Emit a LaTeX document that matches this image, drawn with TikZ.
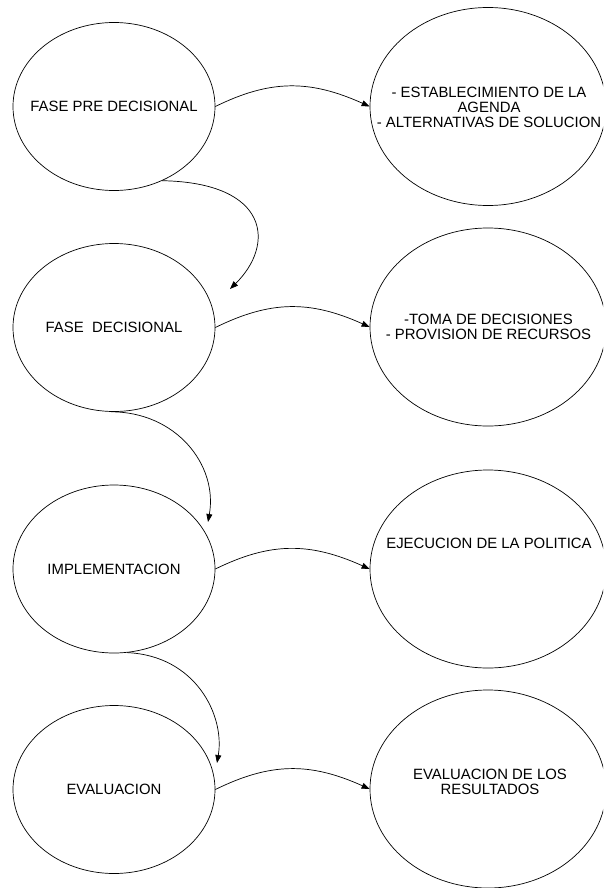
\documentclass[tikz,border=0pt]{standalone}
\usepackage{fontspec}
\setmainfont{Liberation Sans}
\usetikzlibrary{shapes.geometric,arrows.meta}
\begin{document}
\begin{tikzpicture}[x=1pt,y=1pt,
  ell/.style={draw, ellipse, line width=0.7pt, inner sep=0pt},
  lell/.style={ell, minimum width=202pt, minimum height=168pt},
  rell/.style={ell, minimum width=236pt, minimum height=198pt},
  txt/.style={align=center, inner sep=0pt, font=\fontsize{14.9}{15}\selectfont},
  conn/.style={line width=0.7pt, -{Triangle[length=8pt,width=6pt]}}]
\clip (0,0) rectangle (603,-888);
% left ellipses
\node[lell] (l1) at (114,-106.5) {};
\node[lell] (l2) at (114,-327.5) {};
\node[lell] (l3) at (114,-569) {};
\node[lell] (l4) at (114,-789.5) {};
% right ellipses
\node[rell] (r1) at (488,-106.5) {};
\node[rell] (r2) at (488,-327) {};
\node[rell] (r3) at (488,-569) {};
\node[rell] (r4) at (488,-789) {};
% texts
\node[txt] (t1) at (l1) {FASE PRE DECISIONAL};
\node[txt] (t2) at (l2) {FASE\ \ DECISIONAL};
\node[txt] (t3) at (l3) {IMPLEMENTACION};
\node[txt] (t4) at (l4) {EVALUACION};
\node[txt] (u1) at (489,-107) {- ESTABLECIMIENTO DE LA\\AGENDA\\- ALTERNATIVAS DE SOLUCION};
\node[txt] (u2) at (488.5,-326.5) {-TOMA DE DECISIONES\\- PROVISION DE RECURSOS};
\node[txt] (u3) at (489,-543) {EJECUCION DE LA POLITICA};
\node[txt] (u4) at (490,-781.5) {EVALUACION DE LOS\\RESULTADOS};
% horizontal connectors
\draw[conn] (l1.east) .. controls +(55,27) and +(-60,27) .. (r1.west);
\draw[conn] (l2.east) .. controls +(55,27) and +(-60,27) .. (r2.west);
\draw[conn] (l3.east) .. controls +(55,27) and +(-60,27) .. (r3.west);
\draw[conn] (l4.east) .. controls +(55,27) and +(-60,27) .. (r4.west);
% vertical connectors
\coordinate (e1) at (230,-289);
\coordinate (e2) at (208,-522);
\coordinate (e3) at (217,-763);
\draw[conn] (l1.-57) .. controls +(108,-2) and +(45,44) .. (e1);
\draw[conn] (l2.-92) .. controls +(65,0) and +(10,57) .. (e2);
\draw[conn] (l3.-81) .. controls +(68,-3) and +(8,48) .. (e3);
\end{tikzpicture}
\end{document}
